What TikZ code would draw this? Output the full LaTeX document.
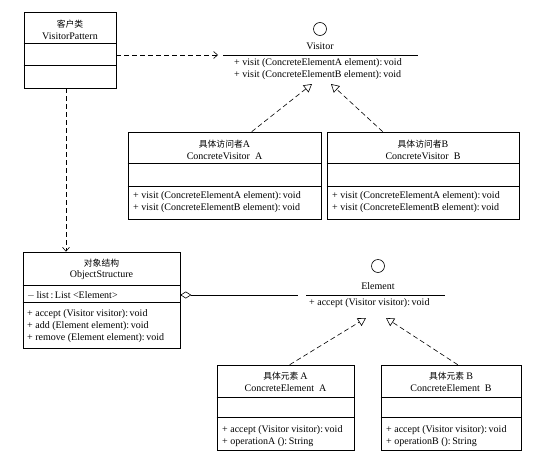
\documentclass[tikz,border=0pt]{standalone}
\usepackage{fontspec}
\setmainfont{Liberation Serif}
\newfontfamily\cjk{Noto Sans CJK SC}[Scale=0.88]
\usetikzlibrary{arrows.meta,calc}
\begin{document}
\begin{tikzpicture}[x=1pt,y=-1pt,
  box/.style={draw,line width=0.6pt,inner sep=0pt,rectangle},
  txt/.style={font=\fontsize{10}{12}\selectfont,inner sep=0pt},
  mtxt/.style={txt,align=left,anchor=west},
  divline/.style={line width=0.6pt},
  iline/.style={line width=0.8pt},
  icirc/.style={draw,circle,minimum size=13pt,inner sep=0pt,line width=0.6pt},
  dep/.style={line width=0.6pt,dash pattern=on 5pt off 3pt,-{Straight Barb[length=4pt,width=7pt]}},
  real/.style={line width=0.6pt,dash pattern=on 5pt off 3pt,-{Triangle[open,length=8pt,width=9pt]}},
  aggr/.style={line width=0.6pt,{Diamond[open,length=11pt,width=7pt]}-}
]
\useasboundingbox (0,0) rectangle (538,458);
\fill[white] (0,0) rectangle (538,458);

% client
\node[box,minimum width=92pt,minimum height=76pt] (client) at (70,50) {};
\draw[divline] ($(client.north west)+(0,32)$) -- ($(client.north east)+(0,32)$);
\draw[divline] ($(client.north west)+(0,54)$) -- ($(client.north east)+(0,54)$);
\node[txt] (clientcn) at (70,24) {\cjk 客户类};
\node[txt] (clientname) at (70,36) {VisitorPattern};

% Visitor interface
\node[icirc] (vcirc) at (320,29) {};
\node[txt] (vname) at (320,46) {Visitor};
\coordinate (vl) at (223,55);
\coordinate (vr) at (418,55);
\coordinate (vtip) at (218,55);
\draw[iline] (vl) -- (vr);
\node[mtxt] (vmeth) at (234,69) {+ visit (ConcreteElementA element):\,void\\+ visit (ConcreteElementB element):\,void};
\coordinate (vta) at (312,84);
\coordinate (vtb) at (331,84);

% ConcreteVisitor A
\node[box,minimum width=193pt,minimum height=87pt] (cva) at (224.5,175.5) {};
\draw[divline] ($(cva.north west)+(0,32)$) -- ($(cva.north east)+(0,32)$);
\draw[divline] ($(cva.north west)+(0,55)$) -- ($(cva.north east)+(0,55)$);
\node[txt] (cvacn) at (224.5,144) {\cjk 具体访问者\rmfamily A};
\node[txt] (cvaname) at (224.5,156) {ConcreteVisitor\ \ A};
\node[mtxt] (cvameth) at (133,202) {+ visit (ConcreteElementA element):\,void\\+ visit (ConcreteElementB element):\,void};

% ConcreteVisitor B
\node[box,minimum width=192pt,minimum height=87pt] (cvb) at (423,175.5) {};
\draw[divline] ($(cvb.north west)+(0,32)$) -- ($(cvb.north east)+(0,32)$);
\draw[divline] ($(cvb.north west)+(0,55)$) -- ($(cvb.north east)+(0,55)$);
\node[txt] (cvbcn) at (423,144) {\cjk 具体访问者\rmfamily B};
\node[txt] (cvbname) at (423,156) {ConcreteVisitor\ \ B};
\node[mtxt] (cvbmeth) at (332,202) {+ visit (ConcreteElementA element):\,void\\+ visit (ConcreteElementB element):\,void};

% ObjectStructure
\node[box,minimum width=157pt,minimum height=96pt] (os) at (101.5,300) {};
\draw[divline] ($(os.north west)+(0,34)$) -- ($(os.north east)+(0,34)$);
\draw[divline] ($(os.north west)+(0,51)$) -- ($(os.north east)+(0,51)$);
\node[txt] (oscn) at (101.5,263) {\cjk 对象结构};
\node[txt] (osname) at (101.5,275) {ObjectStructure};
\node[txt,anchor=west] (osattr) at (27,295.5) {$-$\,list\,:\,List <Element>};
\node[mtxt] (osmeth) at (27,326) {+ accept (Visitor visitor):\,void\\+ add (Element element):\,void\\+ remove (Element element):\,void};

% Element interface
\node[icirc] (ecirc) at (378,266) {};
\node[txt] (ename) at (378,286) {Element};
\coordinate (el) at (306,295);
\coordinate (er) at (445,295);
\coordinate (aggend) at (298,295);
\draw[iline] (el) -- (er);
\node[mtxt] (emeth) at (309,303) {+ accept (Visitor visitor):\,void};
\coordinate (eta) at (366,318);
\coordinate (etb) at (386,318);

% ConcreteElement A
\node[box,minimum width=137pt,minimum height=85pt] (cea) at (285.5,407.5) {};
\draw[divline] ($(cea.north west)+(0,33)$) -- ($(cea.north east)+(0,33)$);
\draw[divline] ($(cea.north west)+(0,53)$) -- ($(cea.north east)+(0,53)$);
\node[txt] (ceacn) at (285.5,376) {\cjk 具体元素\ \rmfamily A};
\node[txt] (ceaname) at (285.5,388) {ConcreteElement\ \ A};
\node[mtxt] (ceameth) at (222,436) {+ accept (Visitor visitor):\,void\\+ operationA ():\,String};

% ConcreteElement B
\node[box,minimum width=140pt,minimum height=85pt] (ceb) at (451,407.5) {};
\draw[divline] ($(ceb.north west)+(0,33)$) -- ($(ceb.north east)+(0,33)$);
\draw[divline] ($(ceb.north west)+(0,53)$) -- ($(ceb.north east)+(0,53)$);
\node[txt] (cebcn) at (451,376) {\cjk 具体元素\ \rmfamily B};
\node[txt] (cebname) at (451,388) {ConcreteElement\ \ B};
\node[mtxt] (cebmeth) at (386,436) {+ accept (Visitor visitor):\,void\\+ operationB ():\,String};

% connectors
\draw[dep] (client.east |- vl) -- (vtip);
\draw[dep] ($(client.south)+(-4,0)$) coordinate (c1) -- (c1 |- os.north);
\draw[real] ($(cva.north west)+(124,0)$) -- (vta);
\draw[real] ($(cvb.north west)+(56,0)$) -- (vtb);
\draw[real] ($(cea.north west)+(73,0)$) -- (eta);
\draw[real] ($(ceb.north west)+(77,0)$) -- (etb);
\draw[aggr] (os.east |- aggend) -- (aggend);
\end{tikzpicture}
\end{document}
